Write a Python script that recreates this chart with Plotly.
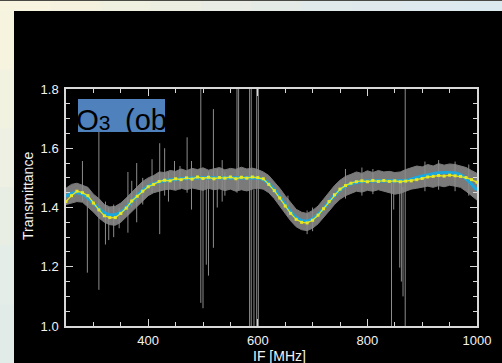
import plotly.graph_objects as go

# ---------------- data ----------------
freq = [250, 260, 270, 280, 290, 300, 310, 320, 330, 340, 350, 360, 370, 380, 390,
        400, 410, 420, 430, 440, 450, 460, 470, 480, 490, 500, 510, 520, 530, 540,
        550, 560, 570, 580, 590, 600, 610, 620, 630, 640, 650, 660, 670, 680, 690,
        700, 710, 720, 730, 740, 750, 760, 770, 780, 790, 800, 810, 820, 830, 840,
        850, 860, 870, 880, 890, 900, 910, 920, 930, 940, 950, 960, 970, 980, 990, 1000]

model_fit = [1.438, 1.447, 1.450, 1.445, 1.432, 1.414, 1.396, 1.382, 1.375, 1.376, 1.384, 1.400, 1.420, 1.440, 1.458,
             1.471, 1.480, 1.486, 1.490, 1.493, 1.495, 1.497, 1.498, 1.499, 1.500, 1.500, 1.500, 1.500, 1.500, 1.500,
             1.500, 1.500, 1.500, 1.500, 1.500, 1.499, 1.494, 1.480, 1.460, 1.436, 1.410, 1.385, 1.366, 1.356, 1.354,
             1.361, 1.377, 1.397, 1.419, 1.441, 1.459, 1.472, 1.480, 1.485, 1.488, 1.489, 1.490, 1.490, 1.490, 1.490,
             1.490, 1.490, 1.491, 1.495, 1.501, 1.506, 1.510, 1.514, 1.517, 1.518, 1.518, 1.516, 1.510, 1.497, 1.479, 1.458]

smoothed_obs = [1.420, 1.440, 1.455, 1.450, 1.440, 1.415, 1.392, 1.372, 1.366, 1.366, 1.380, 1.398, 1.422, 1.438, 1.455,
                1.470, 1.478, 1.488, 1.492, 1.490, 1.497, 1.494, 1.500, 1.496, 1.503, 1.498, 1.502, 1.497, 1.501, 1.499,
                1.503, 1.497, 1.502, 1.499, 1.503, 1.501, 1.497, 1.478, 1.457, 1.432, 1.405, 1.380, 1.360, 1.350, 1.348,
                1.357, 1.374, 1.396, 1.420, 1.443, 1.462, 1.474, 1.482, 1.487, 1.490, 1.487, 1.491, 1.488, 1.491, 1.488,
                1.490, 1.487, 1.489, 1.490, 1.494, 1.498, 1.503, 1.505, 1.508, 1.506, 1.509, 1.507, 1.505, 1.501, 1.494, 1.485]

raw_upper = [1.465, 1.478, 1.482, 1.474, 1.468, 1.445, 1.430, 1.410, 1.402, 1.404, 1.415, 1.432, 1.452, 1.470, 1.488,
             1.500, 1.508, 1.520, 1.518, 1.525, 1.522, 1.530, 1.524, 1.532, 1.528, 1.534, 1.526, 1.530, 1.535, 1.527,
             1.532, 1.529, 1.536, 1.530, 1.533, 1.528, 1.520, 1.508, 1.488, 1.465, 1.440, 1.415, 1.394, 1.384, 1.380,
             1.390, 1.405, 1.428, 1.452, 1.474, 1.492, 1.505, 1.512, 1.520, 1.515, 1.524, 1.518, 1.525, 1.520, 1.522,
             1.518, 1.520, 1.528, 1.535, 1.540, 1.537, 1.545, 1.540, 1.548, 1.543, 1.547, 1.545, 1.540, 1.535, 1.525, 1.515]

raw_lower = [1.410, 1.415, 1.420, 1.418, 1.402, 1.385, 1.365, 1.350, 1.342, 1.340, 1.350, 1.368, 1.388, 1.405, 1.425,
             1.440, 1.450, 1.455, 1.460, 1.462, 1.458, 1.465, 1.460, 1.466, 1.462, 1.458, 1.465, 1.460, 1.463, 1.457,
             1.462, 1.455, 1.460, 1.456, 1.462, 1.465, 1.462, 1.450, 1.430, 1.405, 1.378, 1.355, 1.335, 1.325, 1.322,
             1.330, 1.345, 1.365, 1.388, 1.410, 1.428, 1.440, 1.448, 1.455, 1.452, 1.458, 1.455, 1.460, 1.455, 1.450,
             1.445, 1.448, 1.455, 1.462, 1.465, 1.468, 1.472, 1.468, 1.474, 1.470, 1.475, 1.472, 1.468, 1.455, 1.440, 1.425]

# spikes in the raw spectrum: position, lowest value, highest value
spike_x = [280, 289, 310, 322, 328, 337, 347, 363, 370, 379, 390, 407, 421, 430, 437, 448, 458, 471, 479,
           496, 500, 506, 510, 519, 526, 535, 540, 562, 565, 585, 588, 593, 598, 601,
           655, 690, 700, 760, 790, 810, 844, 848, 859, 862, 865, 869, 905, 930, 960, 985]
spike_lo = [1.420, 1.180, 1.122, 1.275, 1.290, 1.300, 1.330, 1.315, 1.400, 1.350, 1.410, 1.450, 1.310, 1.440, 1.420, 1.460, 1.460, 1.450, 1.393,
            1.078, 1.060, 1.207, 1.170, 1.264, 1.400, 1.420, 1.440, 1.450, 1.460, 1.000, 1.000, 1.000, 1.000, 1.000,
            1.370, 1.310, 1.320, 1.430, 1.440, 1.445, 1.000, 1.393, 1.197, 1.150, 1.100, 1.000, 1.455, 1.460, 1.455, 1.440]
spike_hi = [1.557, 1.440, 1.655, 1.420, 1.400, 1.410, 1.400, 1.520, 1.490, 1.550, 1.500, 1.563, 1.617, 1.600, 1.520, 1.557, 1.540, 1.637, 1.557,
            1.800, 1.500, 1.500, 1.520, 1.732, 1.530, 1.560, 1.520, 1.800, 1.800, 1.800, 1.800, 1.460, 1.800, 1.800,
            1.440, 1.390, 1.400, 1.530, 1.535, 1.530, 1.490, 1.490, 1.490, 1.490, 1.470, 1.800, 1.555, 1.560, 1.555, 1.545]

x_ticks = [400, 600, 800, 1000]
y_ticks = [1.0, 1.2, 1.4, 1.6, 1.8]

# ---------------- layout geometry ----------------
W, H = 502, 363
ML, MR, MT, MB = 66, 25, 89, 37
PW, PH = W - ML - MR, H - MT - MB


def px(xp):
    return (xp - ML) / PW


def py(yp):
    return (H - MB - yp) / PH


fig = go.Figure()

# gray raw spectrum: band + spikes
fig.add_trace(go.Scatter(x=freq, y=raw_lower, mode="lines",
                         line=dict(color="#7a7a7a", width=1), hoverinfo="skip"))
fig.add_trace(go.Scatter(x=freq, y=raw_upper, mode="lines", fill="tonexty",
                         fillcolor="#7a7a7a", line=dict(color="#7a7a7a", width=1), hoverinfo="skip"))
sx, sy = [], []
for xv, lo, hi in zip(spike_x, spike_lo, spike_hi):
    sx += [xv, xv, None]
    sy += [lo, hi, None]
fig.add_trace(go.Scatter(x=sx, y=sy, mode="lines",
                         line=dict(color="#8c8c8c", width=1), hoverinfo="skip"))

# cyan model and yellow smoothed observation
fig.add_trace(go.Scatter(x=freq, y=model_fit, mode="lines",
                         line=dict(color="#1CA6DE", width=3.2, shape="spline")))
fig.add_trace(go.Scatter(x=freq, y=smoothed_obs, mode="lines+markers",
                         line=dict(color="#E2E21E", width=1.3),
                         marker=dict(color="#E8E820", size=3, symbol="square")))

# clipped title text inside the blue box
fig.add_trace(go.Scatter(x=[-0.02], y=[0.27], mode="text", xaxis="x2", yaxis="y2",
                         text=["O<span style='font-size:21px'>3</span>\u2002(obs"],
                         textposition="middle right", cliponaxis=True,
                         textfont=dict(family="Liberation Sans, Arial", size=29, color="#000000"),
                         hoverinfo="skip"))

axis_common = dict(
    showline=True, linecolor="#d8d8d8", linewidth=1.5, mirror="allticks",
    ticks="inside", ticklen=7, tickwidth=1.2, tickcolor="#d8d8d8",
    showgrid=False, zeroline=False,
    tickfont=dict(family="Liberation Sans, Arial", size=13, color="#f2f2f2"),
)

fig.update_layout(
    width=W, height=H,
    margin=dict(l=ML, r=MR, t=MT, b=MB),
    paper_bgcolor="#F4F2E0", plot_bgcolor="rgba(0,0,0,0)",
    showlegend=False,
    xaxis=dict(range=[250, 1000], tickvals=x_ticks, ticktext=[str(v) for v in x_ticks],
               minor=dict(ticks="inside", ticklen=4, tickcolor="#d8d8d8", dtick=50, tick0=0),
               ticklabelstandoff=2, **axis_common),
    yaxis=dict(range=[1.0, 1.8], tickvals=y_ticks, ticktext=["%.1f" % v for v in y_ticks],
               minor=dict(ticks="inside", ticklen=4, tickcolor="#d8d8d8", dtick=0.05, tick0=0),
               ticklabelstandoff=3, **axis_common),
    xaxis2=dict(domain=[px(78), px(165)], range=[0, 1], visible=False, fixedrange=True, anchor="y2"),
    yaxis2=dict(domain=[py(132), py(99)], range=[0, 1], visible=False, fixedrange=True, anchor="x2"),
)

shapes = []
# light slide background gradient strips
top_cols = ["#F7F4DF", "#F4F2DF", "#F0F0E0", "#ECEEE2", "#E8ECE4", "#E4EBE7", "#E1EAEA", "#DFE9EC", "#DDE9EE", "#DCE9EF"]
n = len(top_cols)
for i, c in enumerate(top_cols):
    shapes.append(dict(type="rect", xref="paper", yref="paper", layer="below",
                       x0=px(i * W / n), x1=px((i + 1) * W / n + 1), y0=py(11), y1=py(0),
                       fillcolor=c, line=dict(width=0)))
left_cols = ["#F6F3DE", "#F2F2E0", "#EDF0E2", "#E8EEE4", "#E4EDE7", "#E1ECE9"]
m = len(left_cols)
for i, c in enumerate(left_cols):
    y0p = 11 + i * (H - 11) / m
    y1p = 11 + (i + 1) * (H - 11) / m + 1
    shapes.append(dict(type="rect", xref="paper", yref="paper", layer="below",
                       x0=px(0), x1=px(14), y0=py(y1p), y1=py(y0p),
                       fillcolor=c, line=dict(width=0)))
shapes.append(dict(type="rect", xref="paper", yref="paper", layer="below",
                   x0=px(0), x1=px(W), y0=py(1), y1=py(0),
                   fillcolor="#4a4a44", line=dict(width=0)))
# black chart panel
shapes.append(dict(type="rect", xref="paper", yref="paper", layer="below",
                   x0=px(14), x1=px(W + 2), y0=py(H + 2), y1=py(11),
                   fillcolor="#000000", line=dict(width=0)))
# blue title box
shapes.append(dict(type="rect", xref="paper", yref="paper", layer="below",
                   x0=px(78), x1=px(165), y0=py(132), y1=py(99),
                   fillcolor="#4F81BD", line=dict(width=0)))
fig.update_layout(shapes=shapes)

fig.add_annotation(text="Transmittance", xref="paper", yref="paper",
                   x=px(28), y=py(196), xanchor="center", yanchor="middle",
                   showarrow=False, textangle=-90,
                   font=dict(family="Liberation Sans, Arial", size=14, color="#f2f2f2"))
fig.add_annotation(text="IF [MHz]", xref="paper", yref="paper",
                   x=px(279), y=py(356), xanchor="center", yanchor="middle",
                   showarrow=False,
                   font=dict(family="Liberation Sans, Arial", size=14, color="#f2f2f2"))

fig.write_html("out.html", config={"displayModeBar": False},
               post_script="document.body.style.margin='0';document.body.style.overflow='hidden';")
